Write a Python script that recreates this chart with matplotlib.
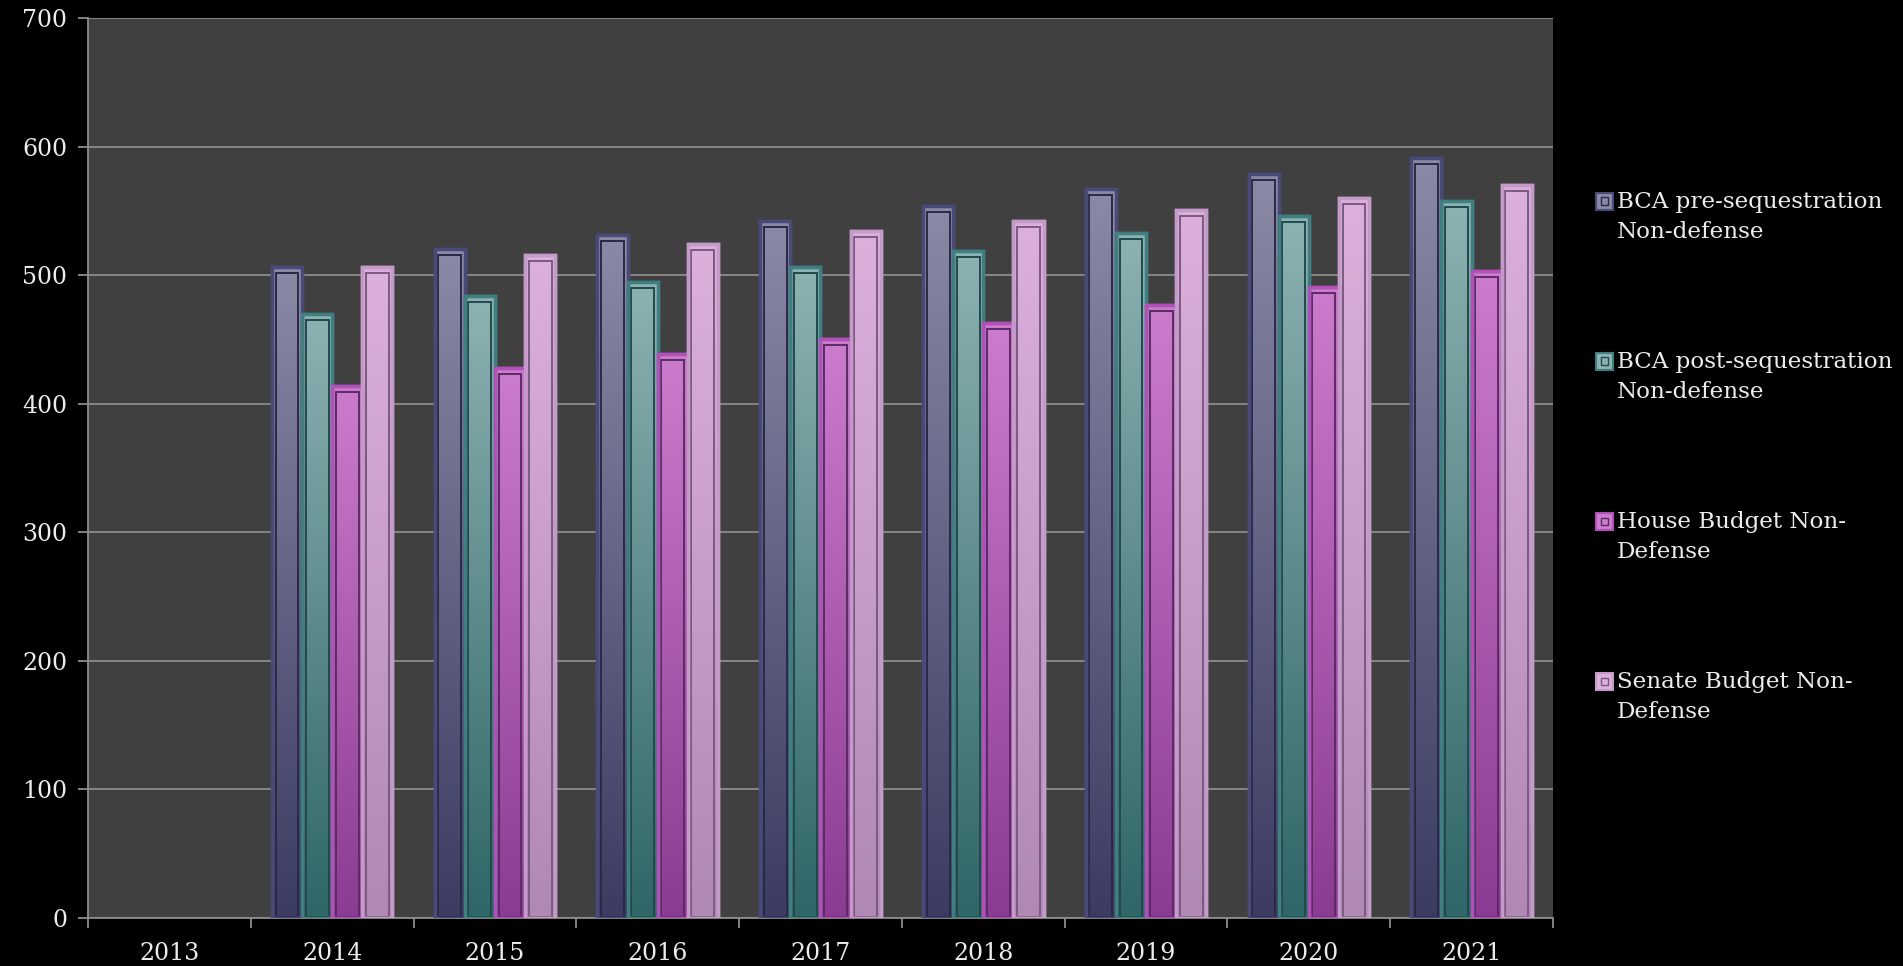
import numpy as np
import matplotlib.pyplot as plt
from matplotlib.colors import LinearSegmentedColormap
from matplotlib.patches import Rectangle

# non-defense discretionary levels by fiscal year (billions)
years = ['2013', '2014', '2015', '2016', '2017', '2018', '2019', '2020', '2021']
bca_pre = [np.nan, 506, 520, 531, 542, 554, 567, 579, 591]
bca_post = [np.nan, 470, 484, 495, 506, 519, 533, 546, 558]
house = [np.nan, 414, 428, 439, 450, 463, 477, 491, 503]
senate = [np.nan, 506, 516, 524, 534, 542, 551, 560, 570]

labels = ['BCA pre-sequestration\nNon-defense',
          'BCA post-sequestration\nNon-defense',
          'House Budget Non-\nDefense',
          'Senate Budget Non-\nDefense']
series = [bca_pre, bca_post, house, senate]

# (bottom colour, top colour, border, inner line)
styles = [('#3c3b62', '#8a8aa6', '#4a4a78', '#2a2a48'),
          ('#2f6667', '#8db2b2', '#3f7f80', '#224a4b'),
          ('#8a3c92', '#cc7ccc', '#b050b8', '#5e2a66'),
          ('#b088b4', '#ddb0dc', '#c49ac8', '#7a5a80')]

plt.rcParams['font.family'] = ['DejaVu Serif']
txt = '#ececec'
grid = '#8c8c8c'

fig = plt.figure(figsize=(19.03, 9.66), dpi=100, facecolor='black')
ax = fig.add_axes([88 / 1903, 48 / 966, (1553 - 88) / 1903, 900 / 966])
ax.set_facecolor('#404040')

x = np.arange(len(years))
w = 0.185
offsets = (np.arange(4) - 1.5) * w

for vals, off, (c0, c1, edge, inner) in zip(series, offsets, styles):
    cmap = LinearSegmentedColormap.from_list('g', [c0, c1])
    grad = np.linspace(0, 1, 256).reshape(-1, 1)
    bars = ax.bar(x + off, vals, width=w, color=c0, edgecolor=edge,
                  linewidth=2.5, zorder=3)
    for b in bars:
        h = b.get_height()
        if not np.isfinite(h):
            continue
        x0 = b.get_x()
        im = ax.imshow(grad, extent=[x0, x0 + w, 0, h], origin='lower',
                       aspect='auto', cmap=cmap, zorder=3.1)
        im.set_clip_path(b)
        # inner bevel line
        ax.add_patch(Rectangle((x0 + 0.022, 0.8), w - 0.044, h - 5.5,
                               fill=False, edgecolor=inner, linewidth=1.4,
                               zorder=3.2))
        ax.add_patch(Rectangle((x0, 0), w, h, fill=False, edgecolor=edge,
                               linewidth=2.5, zorder=3.3))

ax.set_xlim(-0.5, len(years) - 0.5)
ax.set_ylim(0, 700)
ax.set_yticks(np.arange(0, 701, 100))
ax.yaxis.grid(True, color=grid, linewidth=1.3, zorder=1)
ax.set_axisbelow(True)

ax.set_xticks(np.arange(-0.5, len(years), 1.0))
ax.set_xticklabels([])
ax.set_xticks(x, minor=True)
ax.set_xticklabels(years, minor=True)
ax.tick_params(axis='x', which='minor', length=0, pad=17, labelsize=17,
               labelcolor=txt)
ax.tick_params(axis='x', which='major', length=7, width=1.3, color=grid)
ax.tick_params(axis='y', length=7, width=1.3, color=grid, pad=8,
               labelsize=17, labelcolor=txt)

for side in ['top', 'right']:
    ax.spines[side].set_visible(False)
for side in ['left', 'bottom']:
    ax.spines[side].set_color(grid)
    ax.spines[side].set_linewidth(1.3)

# legend on the right
for i, (lab, (c0, c1, edge, inner)) in enumerate(zip(labels, styles)):
    yc = 201 + i * 160
    fig.patches.append(Rectangle((1596 / 1903, 1 - (yc + 8.5) / 966),
                                 17 / 1903, 17 / 966, transform=fig.transFigure,
                                 facecolor=c1, edgecolor=edge, linewidth=1.5))
    fig.patches.append(Rectangle((1601 / 1903, 1 - (yc + 3.5) / 966),
                                 7 / 1903, 7 / 966, transform=fig.transFigure,
                                 facecolor='none', edgecolor=inner, linewidth=1))
    fig.text(1617 / 1903, 1 - (yc - 10) / 966, lab, color=txt, fontsize=16.6,
             va='top', ha='left', linespacing=1.45)

fig.savefig('out.png', dpi=100, facecolor='black')
